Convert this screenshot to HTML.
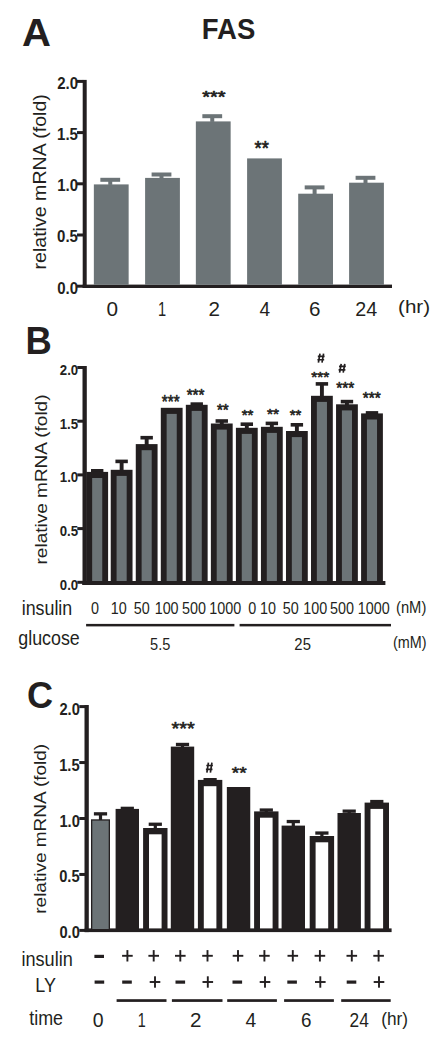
<!DOCTYPE html>
<html><head><meta charset="utf-8"><title>FAS</title>
<style>
html,body{margin:0;padding:0;background:#fff;}
body{width:443px;height:1046px;overflow:hidden;}
svg{display:block;}
text{font-family:"Liberation Sans",sans-serif;fill:#231f20;}
</style></head><body>
<svg width="443" height="1046" viewBox="0 0 443 1046">
<text transform="translate(22.10,45.90) scale(1.025,1)" font-size="39.10" font-weight="bold">A</text>
<text transform="translate(201.76,38.92) scale(0.945,1)" font-size="29.10" font-weight="bold">FAS</text>
<text transform="translate(25.46,354.40) scale(0.952,1)" font-size="38.23" font-weight="bold">B</text>
<text transform="translate(26.92,708.44) scale(0.972,1)" font-size="37.15" font-weight="bold">C</text>
<rect x="82.70" y="79.90" width="4.00" height="208.10" fill="#231f20"/>
<rect x="77.00" y="79.90" width="6.20" height="3.00" fill="#231f20"/>
<text transform="translate(57.25,88.80) scale(0.950,1)" font-size="15.80" font-weight="bold">2.0</text>
<rect x="77.00" y="131.10" width="6.20" height="3.00" fill="#231f20"/>
<text transform="translate(57.05,140.00) scale(0.950,1)" font-size="15.80" font-weight="bold">1.5</text>
<rect x="77.00" y="182.30" width="6.20" height="3.00" fill="#231f20"/>
<text transform="translate(57.25,191.20) scale(0.950,1)" font-size="15.80" font-weight="bold">1.0</text>
<rect x="77.00" y="233.50" width="6.20" height="3.00" fill="#231f20"/>
<text transform="translate(57.05,242.40) scale(0.950,1)" font-size="15.80" font-weight="bold">0.5</text>
<rect x="77.00" y="284.70" width="6.20" height="3.00" fill="#231f20"/>
<text transform="translate(57.25,293.60) scale(0.950,1)" font-size="15.80" font-weight="bold">0.0</text>
<rect x="82.70" y="284.60" width="309.30" height="3.40" fill="#231f20"/>
<text transform="translate(45.70,269.50) rotate(-90) scale(1.032,1)" font-size="19.00">relative mRNA (fold)</text>
<rect x="93.85" y="184.40" width="34.80" height="100.40" fill="#6c7477"/>
<rect x="100.35" y="177.80" width="19.80" height="4.00" fill="#6c7477"/>
<rect x="108.25" y="179.80" width="4.00" height="5.10" fill="#6c7477"/>
<rect x="145.10" y="177.90" width="34.80" height="106.90" fill="#6c7477"/>
<rect x="151.60" y="172.50" width="19.80" height="4.00" fill="#6c7477"/>
<rect x="159.50" y="174.50" width="4.00" height="3.90" fill="#6c7477"/>
<rect x="195.85" y="121.40" width="34.80" height="163.40" fill="#6c7477"/>
<rect x="202.35" y="114.20" width="19.80" height="4.00" fill="#6c7477"/>
<rect x="210.25" y="116.20" width="4.00" height="5.70" fill="#6c7477"/>
<rect x="247.10" y="158.40" width="34.80" height="126.40" fill="#6c7477"/>
<rect x="298.20" y="193.70" width="34.80" height="91.10" fill="#6c7477"/>
<rect x="304.70" y="185.40" width="19.80" height="4.00" fill="#6c7477"/>
<rect x="312.60" y="187.40" width="4.00" height="6.80" fill="#6c7477"/>
<rect x="349.10" y="182.70" width="34.80" height="102.10" fill="#6c7477"/>
<rect x="355.60" y="175.80" width="19.80" height="4.00" fill="#6c7477"/>
<rect x="363.50" y="177.80" width="4.00" height="5.40" fill="#6c7477"/>
<text x="106.49" y="315.70" font-size="20.76">0</text>
<text transform="translate(157.89,315.50) scale(0.713,1)" font-size="20.49">1</text>
<text transform="translate(208.56,315.50) scale(1.022,1)" font-size="20.19">2</text>
<text transform="translate(259.46,315.50) scale(0.936,1)" font-size="20.35">4</text>
<text transform="translate(308.95,315.50) scale(1.005,1)" font-size="20.48">6</text>
<text transform="translate(355.31,315.60) scale(0.971,1)" font-size="20.34">24</text>
<text transform="translate(398.02,313.49) scale(1.091,1)" font-size="18.89">(hr)</text>
<text transform="translate(202.33,103.01) scale(1.169,1)" font-size="17.09" stroke="#231f20" stroke-width="0.7" stroke-linejoin="round">***</text>
<text transform="translate(254.55,154.67) scale(0.920,1)" font-size="19.94" stroke="#231f20" stroke-width="0.7" stroke-linejoin="round">**</text>
<rect x="82.50" y="366.00" width="4.30" height="219.00" fill="#231f20"/>
<rect x="77.30" y="366.00" width="5.70" height="3.00" fill="#231f20"/>
<text transform="translate(59.83,375.00) scale(0.920,1)" font-size="14.40" font-weight="bold">2.0</text>
<rect x="77.30" y="419.70" width="5.70" height="3.00" fill="#231f20"/>
<text transform="translate(59.65,428.70) scale(0.920,1)" font-size="14.40" font-weight="bold">1.5</text>
<rect x="77.30" y="473.40" width="5.70" height="3.00" fill="#231f20"/>
<text transform="translate(59.83,482.40) scale(0.920,1)" font-size="14.40" font-weight="bold">1.0</text>
<rect x="77.30" y="527.10" width="5.70" height="3.00" fill="#231f20"/>
<text transform="translate(59.65,536.10) scale(0.920,1)" font-size="14.40" font-weight="bold">0.5</text>
<rect x="77.30" y="580.80" width="5.70" height="3.00" fill="#231f20"/>
<text transform="translate(59.83,589.80) scale(0.920,1)" font-size="14.40" font-weight="bold">0.0</text>
<rect x="82.30" y="581.00" width="303.10" height="4.00" fill="#231f20"/>
<text transform="translate(47.10,564.46) rotate(-90) scale(1.119,1)" font-size="17.00">relative mRNA (fold)</text>
<rect x="91.00" y="469.00" width="12.40" height="3.60" fill="#231f20"/>
<rect x="95.25" y="471.00" width="3.90" height="1.90" fill="#231f20"/>
<rect x="86.30" y="471.90" width="21.80" height="110.10" fill="#231f20"/>
<rect x="92.15" y="478.00" width="10.10" height="103.00" fill="#6c7477"/>
<rect x="115.43" y="459.60" width="12.40" height="3.60" fill="#231f20"/>
<rect x="119.68" y="461.60" width="3.90" height="9.20" fill="#231f20"/>
<rect x="110.73" y="469.80" width="21.80" height="112.20" fill="#231f20"/>
<rect x="116.58" y="475.90" width="10.10" height="105.10" fill="#6c7477"/>
<rect x="140.47" y="435.90" width="12.40" height="3.60" fill="#231f20"/>
<rect x="144.72" y="437.90" width="3.90" height="7.20" fill="#231f20"/>
<rect x="135.77" y="444.10" width="21.80" height="137.90" fill="#231f20"/>
<rect x="141.62" y="450.20" width="10.10" height="130.80" fill="#6c7477"/>
<rect x="160.80" y="407.80" width="21.80" height="174.20" fill="#231f20"/>
<rect x="166.65" y="413.90" width="10.10" height="167.10" fill="#6c7477"/>
<rect x="190.54" y="402.30" width="12.40" height="3.60" fill="#231f20"/>
<rect x="194.79" y="404.30" width="3.90" height="1.50" fill="#231f20"/>
<rect x="185.84" y="404.80" width="21.80" height="177.20" fill="#231f20"/>
<rect x="191.69" y="410.90" width="10.10" height="170.10" fill="#6c7477"/>
<rect x="215.57" y="419.20" width="12.40" height="3.60" fill="#231f20"/>
<rect x="219.82" y="421.20" width="3.90" height="3.30" fill="#231f20"/>
<rect x="210.87" y="423.50" width="21.80" height="158.50" fill="#231f20"/>
<rect x="216.72" y="429.60" width="10.10" height="151.40" fill="#6c7477"/>
<rect x="240.61" y="422.40" width="12.40" height="3.60" fill="#231f20"/>
<rect x="244.86" y="424.40" width="3.90" height="4.40" fill="#231f20"/>
<rect x="235.91" y="427.80" width="21.80" height="154.20" fill="#231f20"/>
<rect x="241.76" y="433.90" width="10.10" height="147.10" fill="#6c7477"/>
<rect x="265.65" y="421.60" width="12.40" height="3.60" fill="#231f20"/>
<rect x="269.90" y="423.60" width="3.90" height="4.20" fill="#231f20"/>
<rect x="260.95" y="426.80" width="21.80" height="155.20" fill="#231f20"/>
<rect x="266.80" y="432.90" width="10.10" height="148.10" fill="#6c7477"/>
<rect x="290.68" y="423.00" width="12.40" height="3.60" fill="#231f20"/>
<rect x="294.93" y="425.00" width="3.90" height="7.00" fill="#231f20"/>
<rect x="285.98" y="431.00" width="21.80" height="151.00" fill="#231f20"/>
<rect x="291.83" y="437.10" width="10.10" height="143.90" fill="#6c7477"/>
<rect x="315.71" y="382.10" width="12.40" height="3.60" fill="#231f20"/>
<rect x="319.96" y="384.10" width="3.90" height="12.70" fill="#231f20"/>
<rect x="311.01" y="395.80" width="21.80" height="186.20" fill="#231f20"/>
<rect x="316.86" y="401.90" width="10.10" height="179.10" fill="#6c7477"/>
<rect x="340.75" y="399.80" width="12.40" height="3.60" fill="#231f20"/>
<rect x="345.00" y="401.80" width="3.90" height="3.50" fill="#231f20"/>
<rect x="336.05" y="404.30" width="21.80" height="177.70" fill="#231f20"/>
<rect x="341.90" y="410.40" width="10.10" height="170.60" fill="#6c7477"/>
<rect x="365.79" y="411.10" width="12.40" height="3.60" fill="#231f20"/>
<rect x="370.04" y="413.10" width="3.90" height="1.30" fill="#231f20"/>
<rect x="361.09" y="413.40" width="21.80" height="168.60" fill="#231f20"/>
<rect x="366.94" y="419.50" width="10.10" height="161.50" fill="#6c7477"/>
<text transform="translate(90.91,613.80) scale(0.860,1)" font-size="16.70">0</text>
<text transform="translate(110.85,613.80) scale(0.860,1)" font-size="16.70">10</text>
<text transform="translate(133.71,613.80) scale(0.860,1)" font-size="16.70">50</text>
<text transform="translate(154.65,613.80) scale(0.860,1)" font-size="16.70">100</text>
<text transform="translate(182.01,613.80) scale(0.860,1)" font-size="16.70">500</text>
<text transform="translate(209.36,613.80) scale(0.860,1)" font-size="16.70">1000</text>
<text transform="translate(248.21,613.80) scale(0.860,1)" font-size="16.70">0</text>
<text transform="translate(259.95,613.80) scale(0.860,1)" font-size="16.70">10</text>
<text transform="translate(282.81,613.80) scale(0.860,1)" font-size="16.70">50</text>
<text transform="translate(303.35,613.80) scale(0.860,1)" font-size="16.70">100</text>
<text transform="translate(330.01,613.80) scale(0.860,1)" font-size="16.70">500</text>
<text transform="translate(357.76,613.80) scale(0.860,1)" font-size="16.70">1000</text>
<text transform="translate(395.98,613.39) scale(0.923,1)" font-size="15.99">(nM)</text>
<text transform="translate(21.71,615.31) scale(0.922,1)" font-size="19.34">insulin</text>
<text transform="translate(18.25,645.38) scale(0.900,1)" font-size="19.85">glucose</text>
<rect x="86.10" y="623.90" width="148.30" height="2.50" fill="#231f20"/>
<rect x="239.60" y="623.90" width="151.40" height="2.50" fill="#231f20"/>
<text transform="translate(150.12,649.84) scale(0.894,1)" font-size="16.34">5.5</text>
<text transform="translate(294.35,649.84) scale(0.925,1)" font-size="16.10">25</text>
<text transform="translate(392.91,648.43) scale(0.913,1)" font-size="15.78">(mM)</text>
<text transform="translate(161.85,407.74) scale(0.836,1)" font-size="18.23" stroke="#231f20" stroke-width="0.6" stroke-linejoin="round">***</text>
<text transform="translate(186.65,400.95) scale(0.877,1)" font-size="17.38" stroke="#231f20" stroke-width="0.6" stroke-linejoin="round">***</text>
<text transform="translate(216.96,416.07) scale(0.949,1)" font-size="15.95" stroke="#231f20" stroke-width="0.6" stroke-linejoin="round">**</text>
<text transform="translate(241.76,419.89) scale(1.013,1)" font-size="14.81" stroke="#231f20" stroke-width="0.6" stroke-linejoin="round">**</text>
<text x="267.05" y="419.38" font-size="15.38" stroke="#231f20" stroke-width="0.6" stroke-linejoin="round">**</text>
<text x="289.66" y="419.89" font-size="14.81" stroke="#231f20" stroke-width="0.6" stroke-linejoin="round">**</text>
<text x="311.35" y="382.08" font-size="15.38" stroke="#231f20" stroke-width="0.6" stroke-linejoin="round">***</text>
<text transform="translate(336.15,394.37) scale(0.949,1)" font-size="16.24" stroke="#231f20" stroke-width="0.6" stroke-linejoin="round">***</text>
<text transform="translate(362.85,404.08) scale(0.978,1)" font-size="15.67" stroke="#231f20" stroke-width="0.6" stroke-linejoin="round">***</text>
<path d="M319.99,353.69L318.41,362.61M323.59,353.69L322.01,362.61M317.83,356.29L324.60,356.29M317.40,359.73L324.17,359.73" stroke="#231f20" stroke-width="1.7" fill="none"/>
<path d="M341.19,363.88L339.61,372.72M344.79,363.88L343.21,372.72M339.03,366.46L345.80,366.46M338.60,369.86L345.37,369.86" stroke="#231f20" stroke-width="1.7" fill="none"/>
<rect x="84.50" y="705.00" width="4.30" height="227.10" fill="#231f20"/>
<rect x="79.30" y="705.10" width="5.70" height="3.00" fill="#231f20"/>
<text transform="translate(59.38,714.60) scale(0.930,1)" font-size="15.80" font-weight="bold">2.0</text>
<rect x="79.30" y="761.05" width="5.70" height="3.00" fill="#231f20"/>
<text transform="translate(59.18,770.55) scale(0.930,1)" font-size="15.80" font-weight="bold">1.5</text>
<rect x="79.30" y="817.00" width="5.70" height="3.00" fill="#231f20"/>
<text transform="translate(59.38,826.50) scale(0.930,1)" font-size="15.80" font-weight="bold">1.0</text>
<rect x="79.30" y="872.95" width="5.70" height="3.00" fill="#231f20"/>
<text transform="translate(59.18,882.45) scale(0.930,1)" font-size="15.80" font-weight="bold">0.5</text>
<rect x="79.30" y="928.90" width="5.70" height="3.00" fill="#231f20"/>
<text transform="translate(59.38,938.40) scale(0.930,1)" font-size="15.80" font-weight="bold">0.0</text>
<rect x="84.70" y="928.40" width="306.90" height="3.70" fill="#231f20"/>
<text transform="translate(46.10,913.76) rotate(-90) scale(1.153,1)" font-size="16.50">relative mRNA (fold)</text>
<rect x="93.90" y="812.20" width="13.20" height="3.30" fill="#231f20"/>
<rect x="98.90" y="814.20" width="3.20" height="6.10" fill="#231f20"/>
<rect x="91.00" y="819.30" width="19.00" height="109.70" fill="#231f20"/>
<rect x="92.30" y="820.60" width="16.40" height="108.40" fill="#6c7477"/>
<rect x="120.70" y="806.70" width="13.20" height="3.30" fill="#231f20"/>
<rect x="125.70" y="808.70" width="3.20" height="1.20" fill="#231f20"/>
<rect x="115.60" y="808.90" width="23.40" height="120.10" fill="#231f20"/>
<rect x="148.70" y="822.60" width="13.20" height="3.30" fill="#231f20"/>
<rect x="153.70" y="824.60" width="3.20" height="4.40" fill="#231f20"/>
<rect x="143.10" y="828.00" width="24.40" height="101.00" fill="#231f20"/>
<rect x="149.00" y="834.30" width="12.60" height="94.10" fill="#fff"/>
<rect x="175.90" y="742.80" width="13.20" height="3.30" fill="#231f20"/>
<rect x="180.90" y="744.80" width="3.20" height="2.80" fill="#231f20"/>
<rect x="170.80" y="746.60" width="23.40" height="182.40" fill="#231f20"/>
<rect x="203.50" y="778.00" width="13.20" height="3.30" fill="#231f20"/>
<rect x="208.50" y="780.00" width="3.20" height="0.90" fill="#231f20"/>
<rect x="197.90" y="779.90" width="24.40" height="149.10" fill="#231f20"/>
<rect x="203.80" y="786.20" width="12.60" height="142.20" fill="#fff"/>
<rect x="226.85" y="787.00" width="23.40" height="142.00" fill="#231f20"/>
<rect x="259.70" y="808.40" width="13.20" height="3.30" fill="#231f20"/>
<rect x="264.70" y="810.40" width="3.20" height="2.00" fill="#231f20"/>
<rect x="254.10" y="811.40" width="24.40" height="117.60" fill="#231f20"/>
<rect x="260.00" y="817.70" width="12.60" height="110.70" fill="#fff"/>
<rect x="286.70" y="819.90" width="13.20" height="3.30" fill="#231f20"/>
<rect x="291.70" y="821.90" width="3.20" height="4.70" fill="#231f20"/>
<rect x="281.60" y="825.60" width="23.40" height="103.40" fill="#231f20"/>
<rect x="315.30" y="831.40" width="13.20" height="3.30" fill="#231f20"/>
<rect x="320.30" y="833.40" width="3.20" height="3.60" fill="#231f20"/>
<rect x="309.70" y="836.00" width="24.40" height="93.00" fill="#231f20"/>
<rect x="315.60" y="842.30" width="12.60" height="86.10" fill="#fff"/>
<rect x="342.60" y="809.50" width="13.20" height="3.30" fill="#231f20"/>
<rect x="347.60" y="811.50" width="3.20" height="2.50" fill="#231f20"/>
<rect x="337.50" y="813.00" width="23.40" height="116.00" fill="#231f20"/>
<rect x="370.20" y="799.90" width="13.20" height="3.30" fill="#231f20"/>
<rect x="375.20" y="801.90" width="3.20" height="1.70" fill="#231f20"/>
<rect x="364.60" y="802.60" width="24.40" height="126.40" fill="#231f20"/>
<rect x="370.50" y="808.90" width="12.60" height="119.50" fill="#fff"/>
<text transform="translate(171.38,735.24) scale(1.080,1)" font-size="18.51" stroke="#231f20" stroke-width="0.6" stroke-linejoin="round">***</text>
<path d="M208.42,762.51L206.88,772.69M211.92,762.51L210.38,772.69M206.32,765.48L212.90,765.48M205.90,769.40L212.48,769.40" stroke="#231f20" stroke-width="1.7" fill="none"/>
<text transform="translate(231.79,778.65) scale(1.102,1)" font-size="17.38" stroke="#231f20" stroke-width="0.6" stroke-linejoin="round">**</text>
<text transform="translate(21.39,966.10) scale(0.906,1)" font-size="20.02">insulin</text>
<text transform="translate(35.33,992.40) scale(0.870,1)" font-size="20.64">LY</text>
<text transform="translate(29.23,1024.91) scale(0.908,1)" font-size="19.74">time</text>
<rect x="94.40" y="954.80" width="9.60" height="3.20" fill="#231f20"/>
<rect x="122.10" y="954.85" width="10.60" height="1.90" fill="#231f20"/>
<rect x="126.45" y="950.10" width="1.90" height="11.40" fill="#231f20"/>
<rect x="148.40" y="954.85" width="10.60" height="1.90" fill="#231f20"/>
<rect x="152.75" y="950.10" width="1.90" height="11.40" fill="#231f20"/>
<rect x="175.00" y="954.85" width="10.60" height="1.90" fill="#231f20"/>
<rect x="179.35" y="950.10" width="1.90" height="11.40" fill="#231f20"/>
<rect x="202.20" y="954.85" width="10.60" height="1.90" fill="#231f20"/>
<rect x="206.55" y="950.10" width="1.90" height="11.40" fill="#231f20"/>
<rect x="232.70" y="954.85" width="10.60" height="1.90" fill="#231f20"/>
<rect x="237.05" y="950.10" width="1.90" height="11.40" fill="#231f20"/>
<rect x="259.10" y="954.85" width="10.60" height="1.90" fill="#231f20"/>
<rect x="263.45" y="950.10" width="1.90" height="11.40" fill="#231f20"/>
<rect x="287.50" y="954.85" width="10.60" height="1.90" fill="#231f20"/>
<rect x="291.85" y="950.10" width="1.90" height="11.40" fill="#231f20"/>
<rect x="314.60" y="954.85" width="10.60" height="1.90" fill="#231f20"/>
<rect x="318.95" y="950.10" width="1.90" height="11.40" fill="#231f20"/>
<rect x="346.50" y="954.85" width="10.60" height="1.90" fill="#231f20"/>
<rect x="350.85" y="950.10" width="1.90" height="11.40" fill="#231f20"/>
<rect x="373.30" y="954.85" width="10.60" height="1.90" fill="#231f20"/>
<rect x="377.65" y="950.10" width="1.90" height="11.40" fill="#231f20"/>
<rect x="94.60" y="980.50" width="9.60" height="3.20" fill="#231f20"/>
<rect x="122.20" y="980.50" width="9.60" height="3.20" fill="#231f20"/>
<rect x="149.70" y="981.05" width="10.60" height="1.90" fill="#231f20"/>
<rect x="154.05" y="976.30" width="1.90" height="11.40" fill="#231f20"/>
<rect x="175.50" y="980.50" width="9.60" height="3.20" fill="#231f20"/>
<rect x="202.50" y="981.05" width="10.60" height="1.90" fill="#231f20"/>
<rect x="206.85" y="976.30" width="1.90" height="11.40" fill="#231f20"/>
<rect x="232.50" y="980.50" width="9.60" height="3.20" fill="#231f20"/>
<rect x="259.70" y="981.05" width="10.60" height="1.90" fill="#231f20"/>
<rect x="264.05" y="976.30" width="1.90" height="11.40" fill="#231f20"/>
<rect x="287.30" y="980.50" width="9.60" height="3.20" fill="#231f20"/>
<rect x="315.00" y="981.05" width="10.60" height="1.90" fill="#231f20"/>
<rect x="319.35" y="976.30" width="1.90" height="11.40" fill="#231f20"/>
<rect x="346.70" y="980.50" width="9.60" height="3.20" fill="#231f20"/>
<rect x="373.70" y="981.05" width="10.60" height="1.90" fill="#231f20"/>
<rect x="378.05" y="976.30" width="1.90" height="11.40" fill="#231f20"/>
<rect x="116.60" y="999.20" width="49.90" height="2.70" fill="#231f20"/>
<rect x="171.90" y="999.20" width="50.60" height="2.70" fill="#231f20"/>
<rect x="227.20" y="999.20" width="49.70" height="2.70" fill="#231f20"/>
<rect x="284.10" y="999.20" width="49.80" height="2.70" fill="#231f20"/>
<rect x="341.20" y="999.20" width="49.50" height="2.70" fill="#231f20"/>
<text transform="translate(92.64,1027.11) scale(0.977,1)" font-size="19.92">0</text>
<text transform="translate(137.70,1027.00) scale(0.717,1)" font-size="20.06">1</text>
<text transform="translate(189.96,1027.00) scale(1.044,1)" font-size="19.76">2</text>
<text transform="translate(245.46,1027.00) scale(0.960,1)" font-size="20.06">4</text>
<text transform="translate(301.11,1027.00) scale(0.950,1)" font-size="19.80">6</text>
<text transform="translate(349.53,1026.80) scale(0.864,1)" font-size="20.05">24</text>
<text transform="translate(381.23,1025.34) scale(0.903,1)" font-size="19.11">(hr)</text>
</svg>
</body></html>
